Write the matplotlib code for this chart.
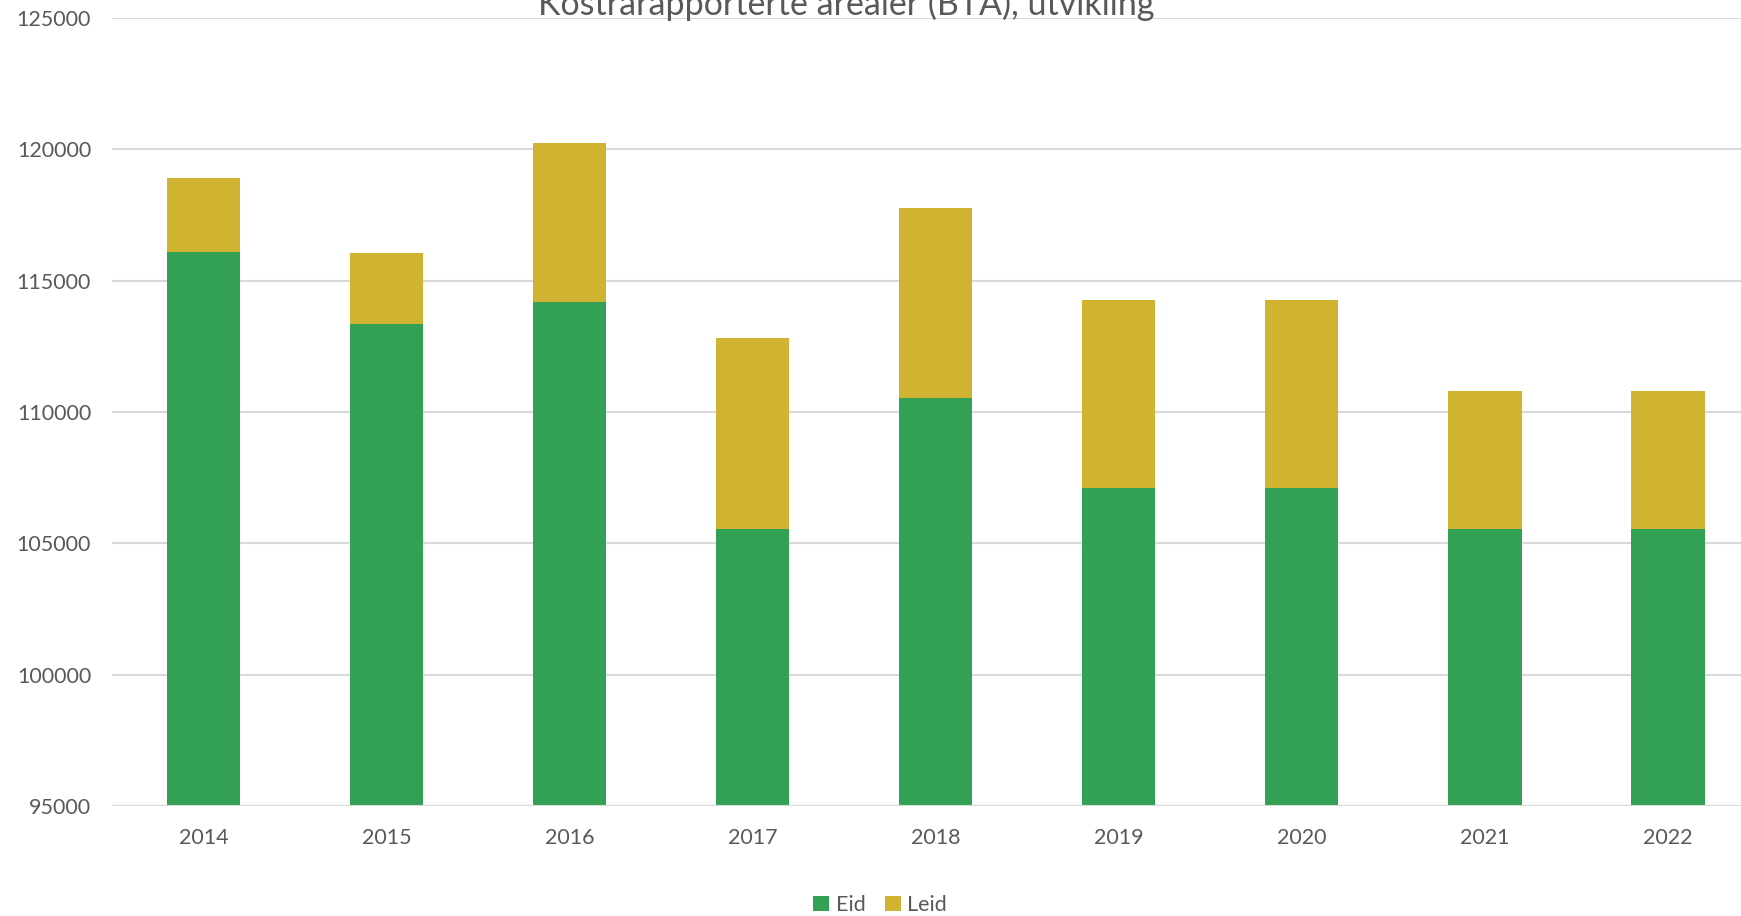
import matplotlib
matplotlib.use("Agg")
import matplotlib.pyplot as plt
import numpy as np

years = ["2014", "2015", "2016", "2017", "2018", "2019", "2020", "2021", "2022"]
eid = [116100, 113350, 114200, 105550, 110550, 107100, 107100, 105550, 105550]
leid = [2800, 2700, 6050, 7250, 7200, 7150, 7150, 5250, 5250]
title = "Kostrarapporterte arealer (BTA), utvikling"
yticks = [95000, 100000, 105000, 110000, 115000, 120000, 125000]

GREEN = "#32A153"
GOLD = "#D0B431"
TXT = "#595959"
GRID = "#D9D9D9"

plt.rcParams['font.family'] = ['Lato', 'DejaVu Sans']

W, H = 1741, 916
fig = plt.figure(figsize=(W / 100, H / 100), dpi=100)
left, right, top, bottom = 112, 1759.5, 18, 806
ax = fig.add_axes([left / W, (H - bottom) / H, (right - left) / W, (bottom - top) / H])

x = np.arange(len(years))
ax.bar(x, eid, width=0.4, color=GREEN, label="Eid", zorder=3)
ax.bar(x, leid, width=0.4, bottom=eid, color=GOLD, label="Leid", zorder=3)

ax.set_xlim(-0.5, len(years) - 0.5)
ax.set_ylim(95000, 125000)
ax.set_yticks(yticks)
ax.set_yticklabels([str(v) for v in yticks])
ax.set_xticks(x)
ax.set_xticklabels(years)
ax.tick_params(axis='both', length=0, labelsize=15.5, colors=TXT)
ax.tick_params(axis='y', pad=15)
ax.tick_params(axis='x', pad=16)
ax.grid(axis='y', color=GRID, linewidth=1.5, zorder=0)
for s in ax.spines.values():
    s.set_visible(False)
ax.axhline(95000, color=GRID, linewidth=1.5, zorder=4)

fig.text(846 / W, (H - 15) / H, title, ha='center', va='baseline',
         fontsize=24.5, color=TXT)

leg = fig.legend(loc='center', bbox_to_anchor=(880 / W, (H - 905) / H), ncol=2,
                 frameon=False, fontsize=15.5, handlelength=0.75, handleheight=0.75,
                 handletextpad=0.3, columnspacing=0.9, labelcolor=TXT)

fig.savefig("out.png", dpi=100)
